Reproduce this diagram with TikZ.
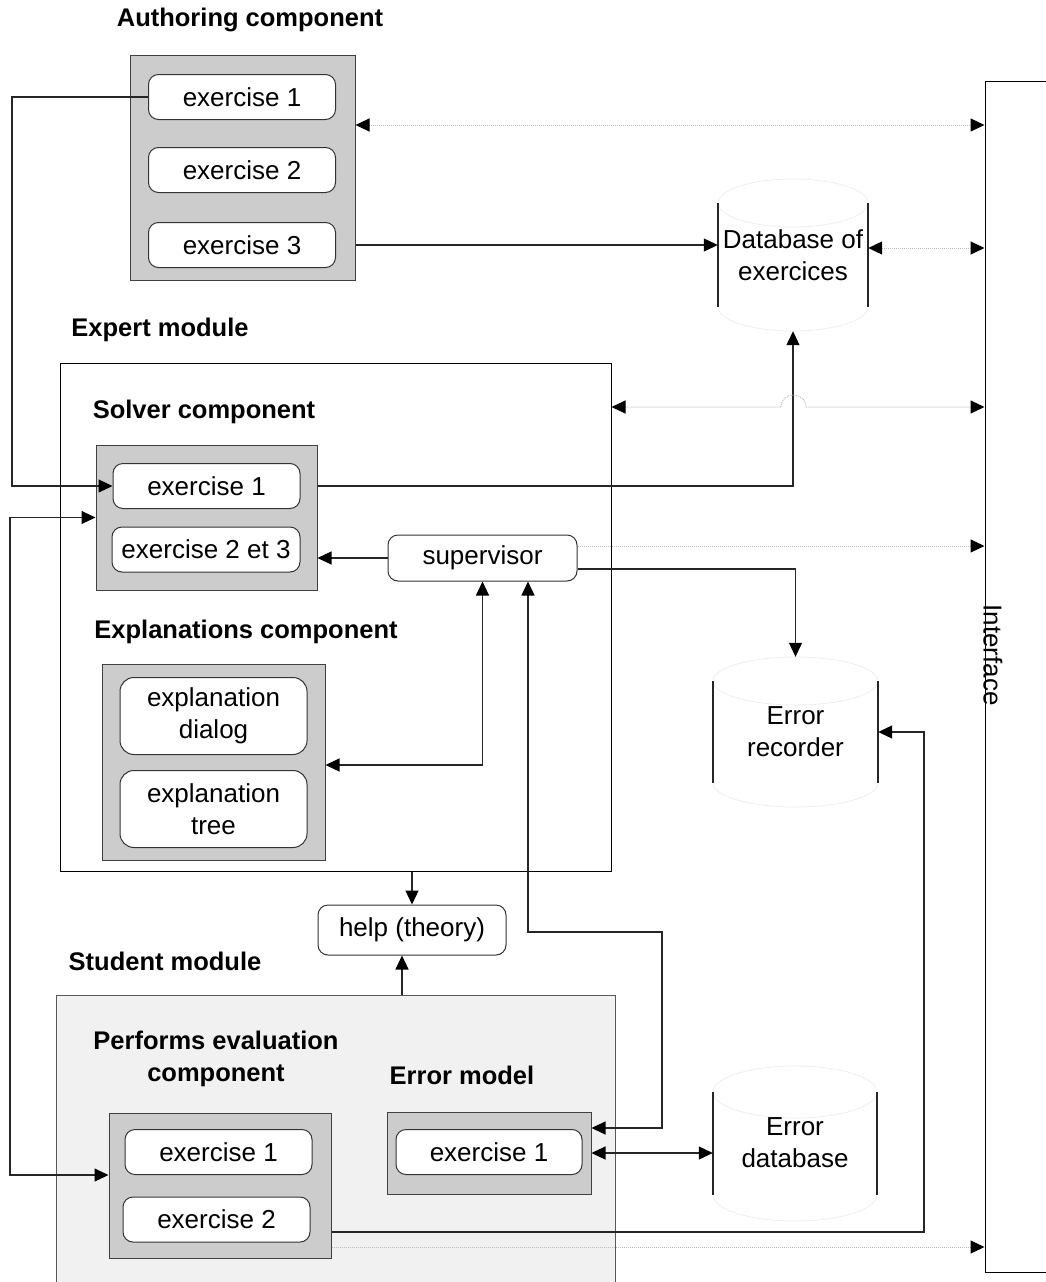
\documentclass[tikz,border=0pt]{standalone}
\usepackage{fontspec}
\setmainfont{Liberation Sans}
\usetikzlibrary{arrows.meta,calc}
\definecolor{boxgray}{HTML}{CCCCCC}
\definecolor{modgray}{HTML}{F1F1F1}
\definecolor{dotgray}{HTML}{BDBDBD}
\definecolor{rimgray}{HTML}{EEEEEE}

\begin{document}
\begin{tikzpicture}[x=1pt,y=-1pt,
  >={Triangle[length=14pt,width=13pt,color=black]},
  lbl/.style={font=\fontsize{26}{32}\selectfont},
  ttl/.style={font=\fontsize{25.5}{32}\selectfont\bfseries, inner sep=0pt, align=center},
  exbox/.style={draw=black!80, line width=1pt, fill=white, rounded corners=10pt,
    minimum width=187pt, minimum height=45pt, inner sep=0pt, lbl, align=center},
  grp/.style={draw=black!75, line width=1pt, fill=boxgray, inner sep=0pt},
  modbox/.style={draw=black, line width=1pt, inner sep=0pt},
  link/.style={draw=black!85, line width=1.1pt},
  soft/.style={draw=dotgray, line width=1pt, densely dotted},
  side/.style={draw=black!85, line width=1.2pt},
  rim/.style={draw=rimgray, line width=0.8pt},
  store/.style={inner sep=0pt, lbl, align=center}
]
\useasboundingbox (0,0) rectangle (1046,1282);

% ---------- Interface column ----------
\node[modbox, minimum width=85pt, minimum height=1191pt] (iface) at (1027.5,676.5) {};
\node[lbl, rotate=-90] (ifacetxt) at (993,655) {Interface};

% ---------- Authoring component ----------
\node[ttl] (authttl) at (250,20) {Authoring component};
\node[grp, minimum width=225pt, minimum height=225pt] (auth) at (242.5,167.5) {};
\node[exbox] (a1) at (242,97) {exercise 1};
\node[exbox] (a2) at (242,170) {exercise 2};
\node[exbox] (a3) at (242,245) {exercise 3};

% ---------- Database of exercices ----------
\draw[rim] (793,203) ellipse [x radius=75, y radius=24];
\begin{scope}
  \clip (700,307) rectangle (890,340);
  \draw[rim] (793,307) ellipse [x radius=75, y radius=24];
\end{scope}
\draw[side] (718,203) -- (718,307);
\draw[side] (868,203) -- (868,307);
\node[store, minimum width=150pt, minimum height=152pt] (db) at (793,255) {Database of\\exercices};

% ---------- Expert module ----------
\node[ttl] (expttl) at (160,330) {Expert module};
\node[modbox, fill=white, minimum width=551pt, minimum height=508pt] (expert) at (335.5,617) {};
\node[ttl] (solvttl) at (204,412) {Solver component};
\node[grp, minimum width=221pt, minimum height=145pt] (solver) at (206.5,517.5) {};
\node[exbox] (s1) at (206.5,486) {exercise 1};
\node[exbox, minimum width=188pt] (s23) at (206,549.5) {exercise 2 et 3};
\node[exbox, minimum width=189pt, minimum height=46pt] (sup) at (482.5,558) {supervisor};

\node[ttl] (explttl) at (246,632) {Explanations component};
\node[grp, minimum width=223pt, minimum height=196pt] (expl) at (213.5,762) {};
\node[exbox, minimum height=77pt, rounded corners=14pt] (e1) at (213.5,716) {explanation\\dialog};
\node[exbox, minimum height=77pt, rounded corners=14pt] (e2) at (213.5,809) {explanation\\tree};

% ---------- Error recorder ----------
\draw[rim] (795.5,681) ellipse [x radius=82.5, y radius=24];
\begin{scope}
  \clip (700,783) rectangle (900,815);
  \draw[rim] (795.5,783) ellipse [x radius=82.5, y radius=24];
\end{scope}
\draw[side] (713,681) -- (713,783);
\draw[side] (878,681) -- (878,783);
\node[store, minimum width=165pt, minimum height=150pt] (rec) at (795.5,732) {Error\\recorder};

% ---------- help ----------
\node[exbox, minimum width=188pt, minimum height=50pt] (help) at (412,930) {help (theory)};

% ---------- Student module ----------
\node[ttl] (studttl) at (165,961) {Student module};
\node[draw=black!65, line width=1pt, fill=modgray, inner sep=0pt,
      minimum width=559pt, minimum height=305pt] (student) at (335.5,1147.5) {};
\node[ttl] (perfttl) at (216,1059) {Performs evaluation\\component};
\node[ttl] (emttl) at (462,1075) {Error model};
\node[grp, minimum width=222pt, minimum height=145pt] (perf) at (220,1185.5) {};
\node[exbox] (p1) at (218.5,1152) {exercise 1};
\node[exbox] (p2) at (216.5,1219.5) {exercise 2};
\node[grp, minimum width=204pt, minimum height=82pt] (emodel) at (489,1153) {};
\node[exbox, minimum width=186pt] (m1) at (489,1152) {exercise 1};

% ---------- Error database ----------
\draw[rim] (795,1092) ellipse [x radius=82, y radius=26];
\begin{scope}
  \clip (700,1195) rectangle (900,1230);
  \draw[rim] (795,1195) ellipse [x radius=82, y radius=26];
\end{scope}
\draw[side] (713,1092) -- (713,1195);
\draw[side] (877,1092) -- (877,1195);
\node[store, minimum width=164pt, minimum height=154pt] (errdb) at (795,1143) {Error\\database};

% ---------- connectors ----------
\draw[link,->] (a1.west) -- (12,97) |- (s1.west);
\draw[link,<->] (solver.west) -- (10,517.5) |- (perf.west |- p1.south);
\draw[link,->] (auth.east |- a3) -- (db.west |- a3);
\draw[link,->] (solver.east |- s1) -| (db.south);
\draw[link,->] (sup.west) -- (solver.east |- sup.west);
\draw[link,->] (sup.east |- 0,569) -| (rec.north);
\draw[link,<->] (expl.east |- 0,765) -| (sup.south);
\draw[link,<->] (sup.south -| 528,0) -- (528,932) -- (662,932) |- (emodel.east |- 0,1128);
\draw[link,<->] (emodel.east |- 0,1153) -- (errdb.west |- 0,1153);
\draw[link,->] (expert.south -| help.north) -- (help.north);
\draw[link,->] (student.north -| 402,0) -- (help.south -| 402,0);
\draw[link,->] (perf.east |- 0,1232) -- (924,1232) |- (rec.east);

% dotted links to the interface
\draw[soft,<->] (auth.east |- 0,125) -- (iface.west |- 0,125);
\draw[soft,<->] (db.east |- 0,248) -- (iface.west |- 0,248);
\draw[soft,<->] (expert.east |- 0,407) -- (781,407)
   .. controls (781,391) and (806,391) .. (806,407) -- (iface.west |- 0,407);
\draw[soft,->] (sup.east |- 0,546) -- (iface.west |- 0,546);
\draw[soft,->] (perf.east |- 0,1247) -- (iface.west |- 0,1247);
\end{tikzpicture}
\end{document}
